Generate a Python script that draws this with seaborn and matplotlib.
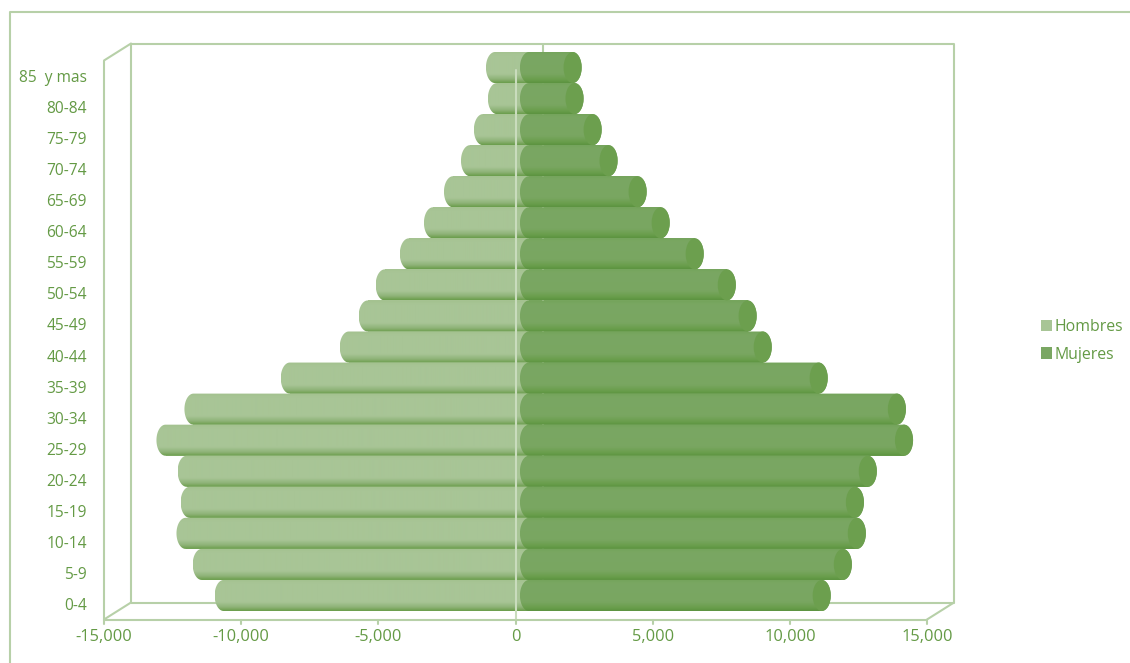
import numpy as np
import pandas as pd
import matplotlib
matplotlib.use("Agg")
import matplotlib.pyplot as plt
import seaborn as sns
from matplotlib.colors import LinearSegmentedColormap
from matplotlib.lines import Line2D
from matplotlib.patches import Ellipse, Polygon
from matplotlib.transforms import ScaledTranslation

# Population by five-year age group, oldest group first
edades = ["85  y mas", "80-84", "75-79", "70-74", "65-69", "60-64", "55-59", "50-54", "45-49",
          "40-44", "35-39", "30-34", "25-29", "20-24", "15-19", "10-14", "5-9", "0-4"]
hombres = [-1240, -1170, -1680, -2150, -2770, -3500, -4380, -5260, -5880,
           -6570, -8720, -12230, -13250, -12480, -12370, -12520, -11930, -11130]
mujeres = [1590, 1660, 2320, 2900, 3960, 4800, 6040, 7210, 7970,
           8520, 10560, 13410, 13670, 12350, 11880, 11950, 11440, 10670]
valores_eje = [-15000, -10000, -5000, 0, 5000, 10000, 15000]
etiquetas_eje = ["-15,000", "-10,000", "-5,000", "0", "5,000", "10,000", "15,000"]

VERDE_TEXTO = "#649a45"
VERDE_MARCO = "#b7d0a8"
COLOR_H = "#a8c596"
COLOR_M = "#7aa763"
COLOR_TAPA = "#6c9f4e"
W, H = 1130, 663
CAP_ANCHO = 660  # ellipse width of a cylinder end, in axis units

sns.set_theme(style="white")
plt.rcParams["font.family"] = ["Open Sans", "DejaVu Sans"]

fig = plt.figure(figsize=(W / 100, H / 100), dpi=100)
# The axes occupy the middle plane of the 3-D box
ax = fig.add_axes([117.5 / W, 1 - 611 / H, 823 / W, 559 / H])

df = pd.DataFrame({
    "Edad": edades * 2,
    "Poblacion": hombres + mujeres,
    "Sexo": ["Hombres"] * len(edades) + ["Mujeres"] * len(edades),
})
sns.barplot(data=df, x="Poblacion", y="Edad", hue="Sexo", order=edades, dodge=False, width=1.0,
            palette={"Hombres": COLOR_H, "Mujeres": COLOR_M}, saturation=1, errorbar=None,
            linewidth=0, ax=ax)
ax.set_xlim(-15000, 15000)
ax.set_ylim(len(edades) - 0.5, -0.5)
ax.set_xlabel("")
ax.set_ylabel("")
sns.despine(ax=ax, left=True, bottom=True)

grad_h = LinearSegmentedColormap.from_list("h", [(0, "#a3c18e"), (0.12, "#a8c596"), (0.72, "#a8c596"),
                                                 (0.88, "#8fb378"), (1, "#6b9e4c")])
grad_m = LinearSegmentedColormap.from_list("m", [(0, "#74a45a"), (0.15, "#7aa763"), (0.72, "#79a661"),
                                                 (0.9, "#6a9e4c"), (1, "#5c9440")])
rampa = np.linspace(0, 1, 64).reshape(-1, 1)
arco = np.linspace(-np.pi / 2, np.pi / 2, 40)


def cilindro(barra, redondo_der, cmap):
    """Paint a shaded bar whose ends bulge like the side of a cylinder."""
    caja = barra.get_bbox()
    x_izq, x_der = caja.xmin, caja.xmax
    y_c, h = (caja.ymin + caja.ymax) / 2, abs(caja.height)
    dx = CAP_ANCHO / 2
    der = np.column_stack([x_der + (dx * np.cos(arco) if redondo_der else 0 * arco), y_c + h / 2 * np.sin(arco)])
    izq = np.column_stack([x_izq - dx * np.cos(arco), y_c - h / 2 * np.sin(arco)])
    contorno = Polygon(np.vstack([der, izq]), closed=True, transform=ax.transData, fill=False, lw=0)
    ax.add_patch(contorno)
    im = ax.imshow(rampa, cmap=cmap, vmin=0, vmax=1, aspect="auto", origin="upper", zorder=3,
                   extent=(x_izq - dx, x_der + dx, y_c + h / 2, y_c - h / 2), interpolation="bilinear")
    im.set_clip_path(contorno)
    return x_der, y_c, h


for barra in ax.containers[0]:
    cilindro(barra, False, grad_h)
for barra in ax.containers[1]:
    fin, y_c, alto = cilindro(barra, True, grad_m)
    ax.add_patch(Ellipse((fin, y_c), CAP_ANCHO, alto, facecolor=COLOR_TAPA, lw=0, zorder=4))
ax.set_xlim(-15000, 15000)
ax.set_ylim(len(edades) - 0.5, -0.5)

# Shifts from the middle plane to the front and back planes of the box
frente = ax.transData + ScaledTranslation(-13.5 / 100, -8.5 / 100, fig.dpi_scale_trans)
fondo = ax.transData + ScaledTranslation(13.5 / 100, 8.5 / 100, fig.dpi_scale_trans)
y0, y1 = len(edades) - 0.5, -0.5
kw = dict(color=VERDE_MARCO, lw=1.5, clip_on=False, solid_capstyle="butt")

# Back wall, with the zero line showing above the top bar
ax.plot([-15000, 15000, 15000, -15000, -15000], [y0, y0, y1, y1, y0], transform=fondo, zorder=1, **kw)
ax.plot([0, 0], [y0, y1], transform=fondo, zorder=1, **kw)
# Front edges of the floor and left wall, and the zero line across the bars
ax.plot([-15000, 15000], [y0, y0], transform=frente, zorder=1, **kw)
ax.plot([-15000, -15000], [y0, y1], transform=frente, zorder=1, **kw)
ax.plot([0, 0], [y0, y1 + 0.3], transform=frente, zorder=5, color="#c9dcbd", lw=1.5, clip_on=False)
# Diagonals joining front and back
for x, y in [(-15000, y0), (15000, y0), (-15000, y1)]:
    xa, ya = frente.transform((x, y))
    xb, yb = fondo.transform((x, y))
    fig.add_artist(Line2D([xa / W, xb / W], [ya / H, yb / H], transform=fig.transFigure,
                          color=VERDE_MARCO, lw=1.5))
# Tick marks under the front edge
for v in valores_eje:
    xa, ya = frente.transform((v, y0))
    fig.add_artist(Line2D([xa / W, xa / W], [ya / H, (ya - 4) / H], transform=fig.transFigure,
                          color=VERDE_MARCO, lw=1.5))

# Outer chart frame: only top and left edges are in view
fig.add_artist(Line2D([10 / W, 10 / W, 1], [0, 1 - 11.5 / H, 1 - 11.5 / H], transform=fig.transFigure,
                      color=VERDE_MARCO, lw=1.5))

ax.set_xticks(valores_eje, etiquetas_eje)
ax.tick_params(axis="x", length=0, pad=13, labelsize=11.8, labelcolor=VERDE_TEXTO)
ax.tick_params(axis="y", length=0, pad=22, labelsize=11.2, labelcolor=VERDE_TEXTO)
for et in ax.get_xticklabels():
    et.set_transform(et.get_transform() + ScaledTranslation(-13.5 / 100, 0, fig.dpi_scale_trans))
for et in ax.get_yticklabels():
    et.set_transform(et.get_transform() + ScaledTranslation(0, -8.5 / 100, fig.dpi_scale_trans))

manijas, textos = ax.get_legend_handles_labels()
ax.legend(manijas, textos, loc="center left", bbox_to_anchor=(1027 / W, 1 - 341 / H),
          bbox_transform=fig.transFigure, frameon=False, fontsize=11.4, labelcolor=VERDE_TEXTO,
          handlelength=0.65, handleheight=0.7, handletextpad=0.2, labelspacing=0.7)

fig.savefig("out.png", dpi=100)
